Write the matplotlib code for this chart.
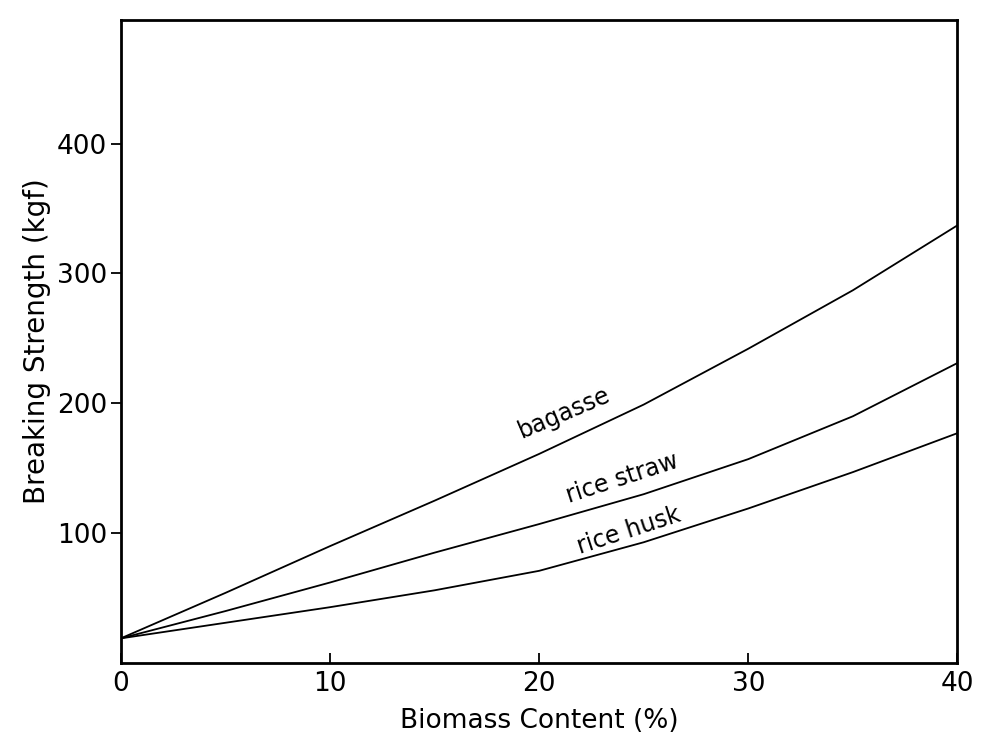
import numpy as np
import matplotlib.pyplot as plt

FONTSIZE = 19

biomass = [0, 5, 10, 15, 20, 25, 30, 35, 40]
bagasse = [19, 54, 90, 125, 161, 199, 242, 287, 337]
rice_straw = [19, 40, 62, 85, 107, 130, 157, 190, 231]
rice_husk = [19, 31, 43, 56, 71, 93, 119, 147, 177]

xticks = [0, 10, 20, 30, 40]
yticks = [100, 200, 300, 400]

# label text, x, y, rotation
curve_labels = [
	("bagasse", 21.2, 193, 23),
	("rice straw", 24.0, 142, 18),
	("rice husk", 24.3, 102, 18),
]

fig = plt.figure(figsize=(9.82, 7.45), dpi=100)
ax = fig.add_axes([0.123, 0.110, 0.852, 0.863])

for series in (bagasse, rice_straw, rice_husk):
	ax.plot(biomass, series, color="black", lw=1.3)

for text, x, y, rot in curve_labels:
	ax.text(x, y, text, rotation=rot, ha="center", va="center",
			fontsize=17, rotation_mode="anchor")

ax.set_xlim(0, 40)
ax.set_ylim(0, 495)
ax.set_xticks(xticks)
ax.set_xticklabels([str(v) for v in xticks], fontsize=FONTSIZE)
ax.set_yticks(yticks)
ax.set_yticklabels([str(v) for v in yticks], fontsize=FONTSIZE)
ax.tick_params(axis="x", direction="in", length=7, width=1.3, pad=6)
ax.tick_params(axis="y", direction="out", length=7, width=1.3, pad=3)

for s in ax.spines.values():
	s.set_linewidth(2)

ax.set_xlabel("Biomass Content (%)", fontsize=19, labelpad=8)
ax.set_ylabel("Breaking Strength (kgf)", fontsize=20, labelpad=4)

plt.savefig("out.png")
